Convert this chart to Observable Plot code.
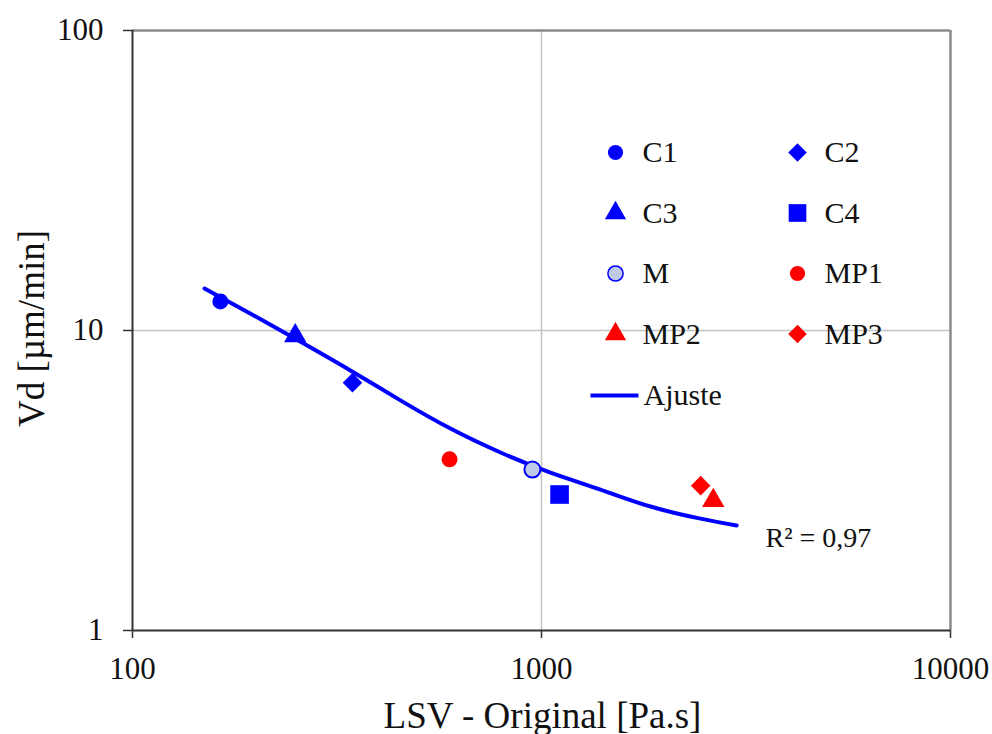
<!DOCTYPE html>
<html>
<head>
<meta charset="utf-8">
<script src="https://cdn.jsdelivr.net/npm/d3@7"></script>
<script src="https://cdn.jsdelivr.net/npm/@observablehq/plot@0.6"></script>
<style>
  html, body { margin: 0; padding: 0; background: #fff; }
  #chart svg { display: block; }
</style>
</head>
<body>
<div id="chart"></div>
<script>
// ---- data ----
const samples = ["C1", "C2", "C3", "C4", "M", "MP1", "MP2", "MP3"];
const lsv     = [164, 345, 250, 1107, 950, 596, 2630, 2450];   // LSV - Original [Pa.s]
const vd      = [12.5, 6.7, 9.6, 2.84, 3.44, 3.72, 2.71, 3.04]; // Vd [µm/min]

// fitted curve ("Ajuste")
const fitX = [150, 194, 257, 341, 452, 599, 794, 1052, 1393, 1847, 2448, 3000];
const fitY = [13.8, 11.4, 9.19, 7.36, 5.85, 4.71, 3.92, 3.36, 2.95, 2.59, 2.36, 2.24];

const xTicks = [100, 1000, 10000];
const yTicks = [1, 10, 100];
const r2Label = "R² = 0,97";
const fitLabel = "Ajuste";

// ---- styling ----
const BLUE = "#0000ff", RED = "#ff0000";
const styleOf = {
  C1:  {shape: "circle",   fill: BLUE, stroke: "none"},
  C2:  {shape: "diamond",  fill: BLUE, stroke: "none"},
  C3:  {shape: "triangle", fill: BLUE, stroke: "none"},
  C4:  {shape: "square",   fill: BLUE, stroke: "none"},
  M:   {shape: "circle",   fill: "#bfc9e8", stroke: BLUE},
  MP1: {shape: "circle",   fill: RED,  stroke: "none"},
  MP2: {shape: "triangle", fill: RED,  stroke: "none"},
  MP3: {shape: "diamond",  fill: RED,  stroke: "none"}
};
const shapeOpts = {
  circle:   {symbol: "circle",   r: 8,    rotate: 0},
  triangle: {symbol: "triangle", r: 8.3,  rotate: 0},
  square:   {symbol: "square",   r: 10.5, rotate: 0},
  diamond:  {symbol: "square",   r: 7.8,  rotate: 45}
};
// horizontal line symbol for the legend entry of the fit
const lineSymbol = {
  draw(context, size) {
    context.moveTo(-24, 0);
    context.lineTo(24, 0);
  }
};

const points = samples.map((s, i) => ({sample: s, x: lsv[i], y: vd[i]}));
const fit = fitX.map((x, i) => ({x, y: fitY[i]}));

const FONT = "Liberation Serif, Times New Roman, Tinos, Nimbus Roman, Noto Serif, DejaVu Serif, FreeSerif, serif";
const marks = [];

// grid
marks.push(Plot.ruleX([1000], {stroke: "#c4c4c4", strokeWidth: 1.5}));
marks.push(Plot.ruleY([10], {stroke: "#c4c4c4", strokeWidth: 1.5}));
// frame: top/right gray, left/bottom dark
marks.push(Plot.ruleY([100], {stroke: "#8a8a8a", strokeWidth: 2.5}));
marks.push(Plot.ruleX([10000], {stroke: "#8a8a8a", strokeWidth: 2.5}));
marks.push(Plot.ruleX([100], {stroke: "#333", strokeWidth: 2}));
marks.push(Plot.ruleY([1], {stroke: "#333", strokeWidth: 2}));

// axes
marks.push(Plot.axisY(yTicks, {tickSize: 9, tickPadding: 20, tickFormat: d => String(d),
  stroke: "#333", strokeWidth: 1.5, fontSize: 31, fontFamily: FONT, fill: "#111", label: null}));
marks.push(Plot.axisX(xTicks, {tickSize: 8, tickPadding: 18, tickFormat: d => String(d),
  stroke: "#333", strokeWidth: 1.5, fontSize: 31, fontFamily: FONT, fill: "#111", label: null}));

// fitted curve
marks.push(Plot.line(fit, {x: "x", y: "y", stroke: BLUE, strokeWidth: 4, curve: "natural"}));

// data points
for (const p of points) {
  const st = styleOf[p.sample], so = shapeOpts[st.shape];
  marks.push(Plot.dot([p], {x: "x", y: "y", symbol: so.symbol, r: so.r, rotate: so.rotate,
    fill: st.fill, stroke: st.stroke, strokeWidth: 2}));
}

// legend (inside plot, offsets from top-left of frame)
samples.forEach((s, i) => {
  const col = i % 2, row = Math.floor(i / 2);
  const mx = col === 0 ? 483 : 665;
  const my = 122 + row * 60.5;
  const st = styleOf[s], so = shapeOpts[st.shape];
  marks.push(Plot.dot([s], {frameAnchor: "top-left", dx: mx, dy: my, symbol: so.symbol,
    r: so.r * 0.95, rotate: so.rotate, fill: st.fill, stroke: st.stroke, strokeWidth: 1.5}));
  marks.push(Plot.text([s], {frameAnchor: "top-left", dx: mx + 27, dy: my, text: d => d,
    textAnchor: "start", lineAnchor: "middle", fontSize: 30, fontFamily: FONT, fill: "#111"}));
});
// legend: fit line entry
marks.push(Plot.dot([fitLabel], {frameAnchor: "top-left", dx: 482, dy: 365, symbol: lineSymbol,
  r: 5, fill: "none", stroke: BLUE, strokeWidth: 4}));
marks.push(Plot.text([fitLabel], {frameAnchor: "top-left", dx: 511, dy: 365, text: d => d,
  textAnchor: "start", lineAnchor: "middle", fontSize: 30, fontFamily: FONT, fill: "#111"}));

// R² annotation
marks.push(Plot.text([r2Label], {frameAnchor: "top-left", dx: 633, dy: 508, text: d => d,
  textAnchor: "start", lineAnchor: "middle", fontSize: 28, fontFamily: FONT, fill: "#111"}));

// axis titles
marks.push(Plot.text(["Vd [µm/min]"], {frameAnchor: "left", dx: -100, dy: -2, rotate: -90, text: d => d,
  textAnchor: "middle", lineAnchor: "middle", fontSize: 37, fontFamily: FONT, fill: "#111"}));
marks.push(Plot.text(["LSV - Original [Pa.s]"], {frameAnchor: "bottom", dx: 1, dy: 97, text: d => d,
  textAnchor: "middle", lineAnchor: "bottom", fontSize: 37, fontFamily: FONT, fill: "#111"}));

const svgPlot = Plot.plot({
  width: 992,
  height: 734,
  marginLeft: 132,
  marginRight: 42,
  marginTop: 30,
  marginBottom: 104,
  x: {type: "log", domain: [100, 10000]},
  y: {type: "log", domain: [1, 100]},
  style: {fontFamily: FONT, fontSize: "31px", color: "#111", background: "#fff"},
  marks
});
document.getElementById("chart").appendChild(svgPlot);
</script>
</body>
</html>
